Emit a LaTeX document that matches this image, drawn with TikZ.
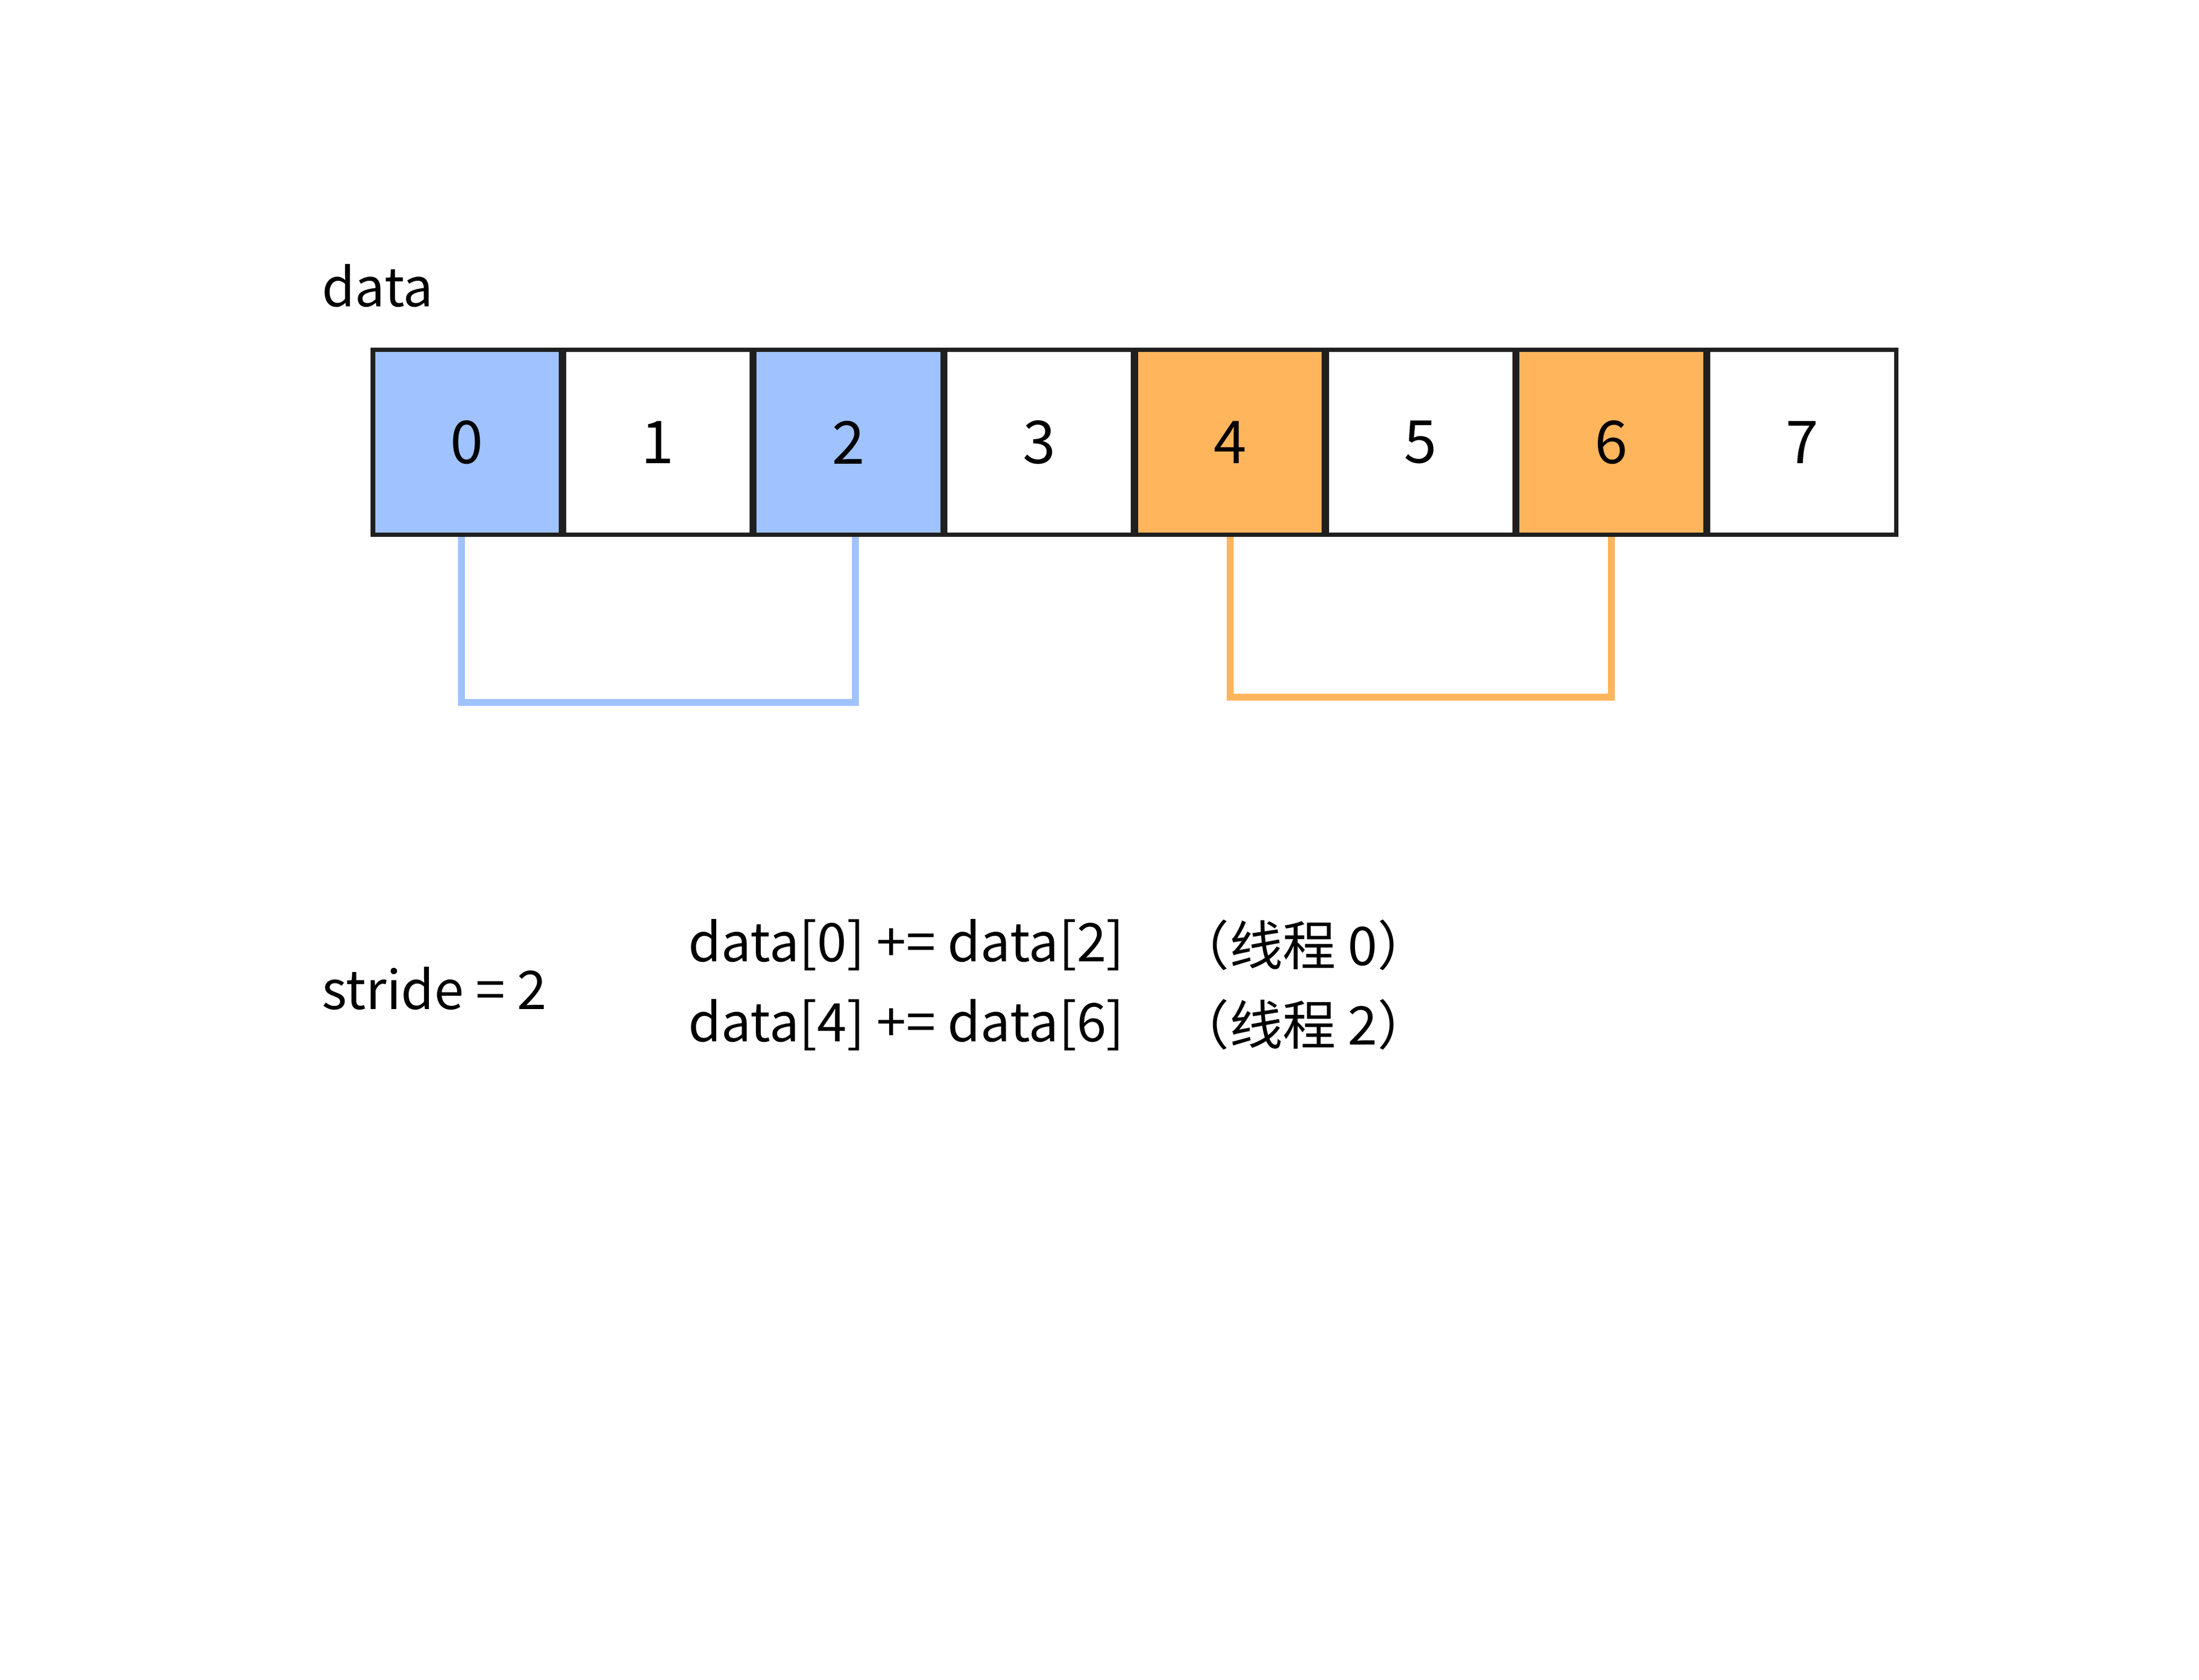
\documentclass[tikz,border=0pt]{standalone}
\usepackage{fontspec}
\setmainfont{Noto Sans CJK SC}
\begin{document}
\begin{tikzpicture}[x=0.01cm,y=-0.01cm,
  cell/.style={draw=black!88,line width=0.9pt,minimum width=1.34cm,minimum height=1.32cm,inner sep=0pt,font=\fontsize{12pt}{14pt}\selectfont},
  txt/.style={font=\fontsize{10.8pt}{13pt}\selectfont,inner sep=0pt,anchor=west},
  conn/.style={line width=1.4pt}]
\definecolor{bl}{HTML}{A0C2FF}
\definecolor{or}{HTML}{FFB55C}
\useasboundingbox (0,0) rectangle (1568,1198);
\foreach \i/\f in {0/bl,1/white,2/bl,3/white,4/or,5/white,6/or,7/white}{
  \node[cell,fill=\f] (c\i) at (333+\i*136,315.5) {\i};
}
\node[txt] (data) at (229,204) {data};
\draw[conn,bl] ([xshift=-0.04cm]c0.south) -- ++(0,118) -| ([xshift=0.05cm]c2.south);
\draw[conn,or] (c4.south) -- ++(0,114) -| (c6.south);
\node[txt] (stride) at (229,705) {stride = 2};
\node[txt] (l1) at (490,674) {data[0] += data[2]};
\node[txt] (l2) at (490,731) {data[4] += data[6]};
\node[txt] (t1) at (838,674) {（线程 0）};
\node[txt] (t2) at (838,731) {（线程 2）};
\end{tikzpicture}
\end{document}
